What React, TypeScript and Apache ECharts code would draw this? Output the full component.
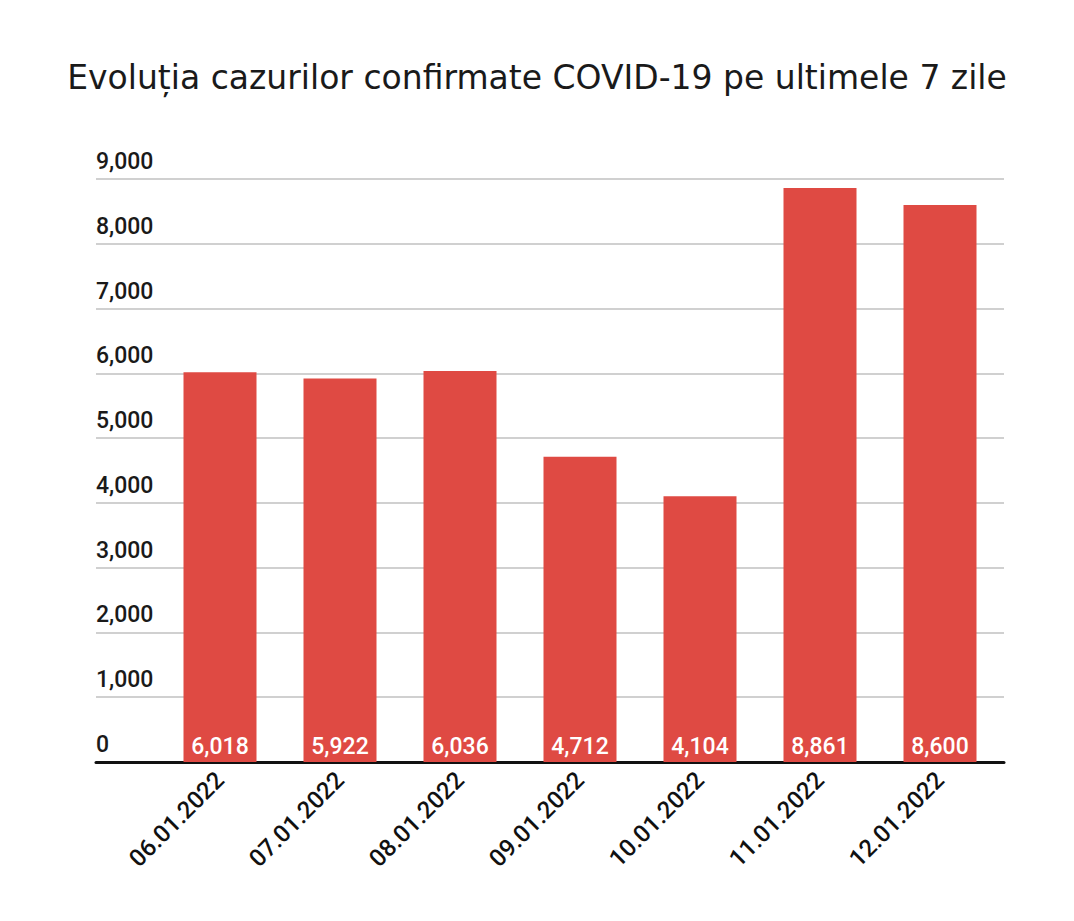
import React, { useEffect, useRef } from "react";
import * as echarts from "echarts";

const categories = ["06.01.2022", "07.01.2022", "08.01.2022", "09.01.2022", "10.01.2022", "11.01.2022", "12.01.2022"];
const cases = [6018, 5922, 6036, 4712, 4104, 8861, 8600];
const titleText = "Evoluția cazurilor confirmate COVID-19 pe ultimele 7 zile";

const fmt = (v: number) => v.toLocaleString("en-US");

export default function App() {
  const ref = useRef<HTMLDivElement>(null);
  useEffect(() => {
    if (!ref.current) return;
    const chart = echarts.init(ref.current, null, { renderer: "svg" });
    const font = "Roboto, 'Open Sans', sans-serif";
    chart.setOption({
      animation: false,
      backgroundColor: "#ffffff",
      title: {
        text: titleText,
        left: "center",
        top: 56,
        textStyle: { fontFamily: "'DejaVu Sans', sans-serif", fontSize: 33, fontWeight: "normal", color: "#1a1a1a" },
      },
      grid: [
        { left: 96, right: 70, top: 179, bottom: 159 },
        { left: 160, right: 74, top: 179, bottom: 159 },
      ],
      xAxis: [
        {
          gridIndex: 0,
          type: "category",
          data: categories,
          axisLine: { show: true, lineStyle: { color: "#111", width: 3 } },
          axisTick: { show: false },
          axisLabel: { show: false },
          splitLine: { show: false },
        },
        {
          gridIndex: 1,
          type: "category",
          data: categories,
          axisLine: { show: false },
          axisTick: { show: false },
          axisLabel: {
            rotate: 45,
            margin: 14,
            fontSize: 24,
            fontWeight: 500,
            fontFamily: font,
            color: "#111",
          },
        },
      ],
      yAxis: [
        {
          gridIndex: 0,
          type: "value",
          min: 0,
          max: 9000,
          interval: 1000,
          axisLine: { show: false },
          axisTick: { show: false },
          splitLine: { lineStyle: { color: "#d0d0d0", width: 2 } },
          axisLabel: {
            inside: true,
            margin: 0,
            verticalAlign: "bottom",
            padding: [0, 0, 6, 0],
            fontSize: 23,
            fontWeight: 500,
            fontFamily: font,
            color: "#1a1a1a",
            formatter: (v: number) => fmt(v),
          },
        },
        {
          gridIndex: 1,
          type: "value",
          min: 0,
          max: 9000,
          interval: 1000,
          show: false,
          splitLine: { show: false },
        },
      ],
      series: [
        {
          type: "bar",
          xAxisIndex: 1,
          yAxisIndex: 1,
          data: cases,
          barWidth: 73,
          z: 1,
          itemStyle: { color: "#df4a43" },
          label: {
            show: true,
            position: "insideBottom",
            distance: 4,
            color: "#ffffff",
            fontSize: 23,
            fontWeight: 500,
            fontFamily: font,
            formatter: (p: any) => fmt(p.value),
          },
        },
      ],
    });
    return () => chart.dispose();
  }, []);
  return <div ref={ref} style={{ position: "absolute", left: 0, top: 0, width: 1074, height: 921 }} />;
}
